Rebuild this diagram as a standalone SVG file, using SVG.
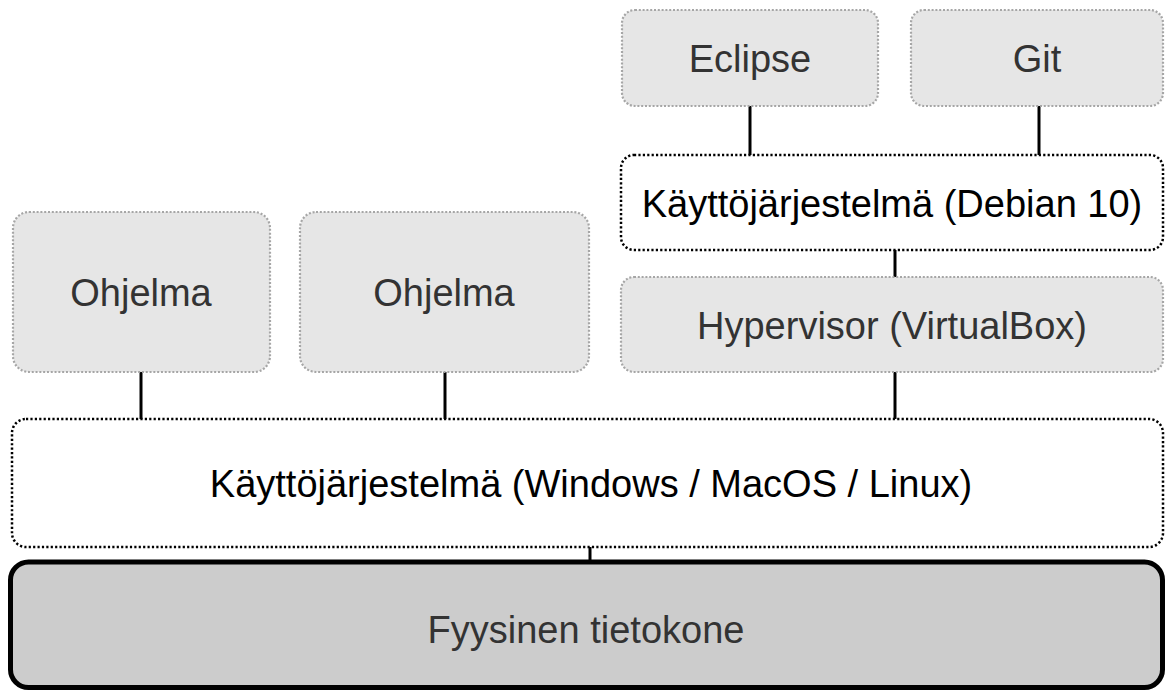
<svg xmlns="http://www.w3.org/2000/svg" width="1165" height="691" viewBox="0 0 1165 691">
<style>
.app{fill:#e6e6e6;stroke:#a6a6a6;stroke-width:2.2;stroke-dasharray:2 1.8}
.os{fill:#ffffff;stroke:#000000;stroke-width:2.5;stroke-dasharray:2.2 2.2}
.hw{fill:#cccccc;stroke:#000000;stroke-width:5}
.t{font-family:"Liberation Sans",Arial,Helvetica,sans-serif;font-size:38px;text-anchor:middle}
.g{fill:#333333}
.k{fill:#000000}
.c{stroke:#000000;stroke-width:3;fill:none}
</style>
<rect width="1165" height="691" fill="#ffffff"/>
<g id="connectors">
<line class="c" x1="750" y1="106" x2="750" y2="155"/>
<line class="c" x1="1039" y1="106" x2="1039" y2="155"/>
<line class="c" x1="895" y1="250" x2="895" y2="277"/>
<line class="c" x1="895" y1="372" x2="895" y2="419"/>
<line class="c" x1="141" y1="372" x2="141" y2="419"/>
<line class="c" x1="445" y1="372" x2="445" y2="419"/>
<line class="c" x1="590" y1="547" x2="590" y2="561"/>
</g>
<g id="eclipse">
<rect class="app" x="622" y="10" width="256" height="96" rx="13"/>
<text class="t g" x="750" y="72">Eclipse</text>
</g>
<g id="git">
<rect class="app" x="911" y="10" width="252" height="96" rx="13"/>
<text class="t g" x="1037" y="72">Git</text>
</g>
<g id="debian">
<rect class="os" x="621" y="155" width="542" height="95" rx="13"/>
<text class="t k" x="892" y="217">Käyttöjärjestelmä (Debian 10)</text>
</g>
<g id="hypervisor">
<rect class="app" x="621" y="277" width="542" height="95" rx="13"/>
<text class="t g" x="892" y="339">Hypervisor (VirtualBox)</text>
</g>
<g id="ohjelma1">
<rect class="app" x="13" y="212" width="257" height="160" rx="16"/>
<text class="t g" x="141" y="306">Ohjelma</text>
</g>
<g id="ohjelma2">
<rect class="app" x="300" y="212" width="289" height="160" rx="16"/>
<text class="t g" x="444" y="306">Ohjelma</text>
</g>
<g id="host-os">
<rect class="os" x="12" y="419" width="1151" height="128" rx="14"/>
<text class="t k" x="591" y="497">Käyttöjärjestelmä (Windows / MacOS / Linux)</text>
</g>
<g id="hardware">
<rect class="hw" x="10.5" y="562" width="1152" height="125.5" rx="18"/>
<text class="t g" x="586" y="643">Fyysinen tietokone</text>
</g>
</svg>
